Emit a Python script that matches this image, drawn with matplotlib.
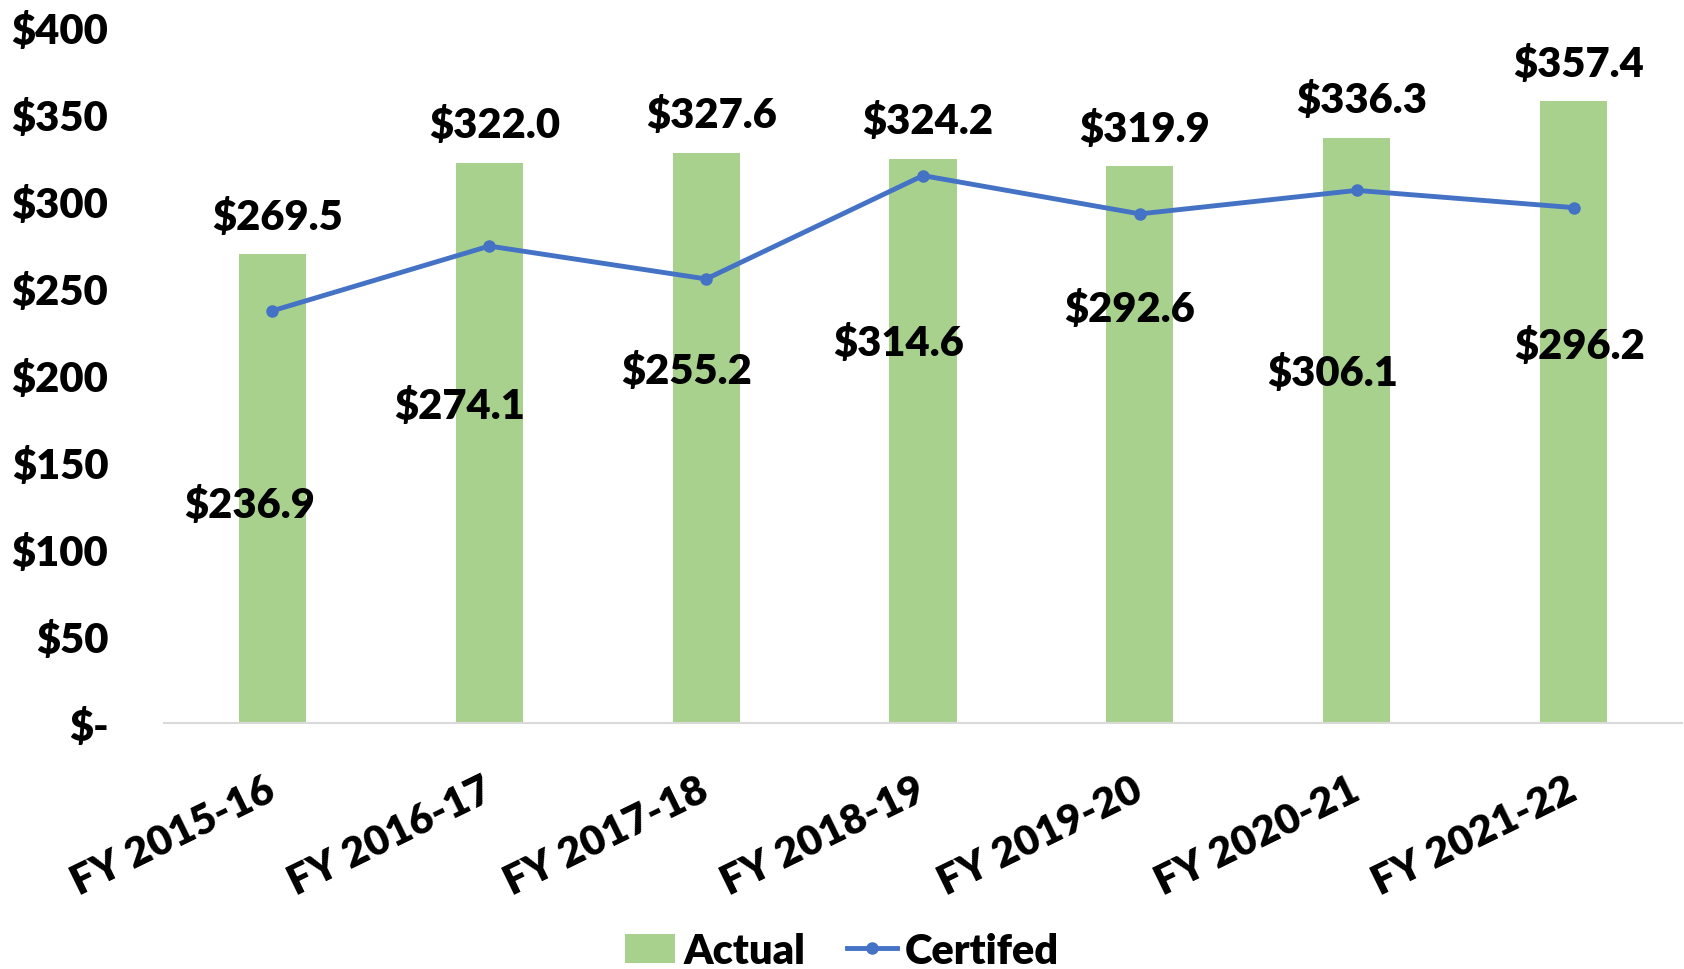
import matplotlib.pyplot as plt
import numpy as np

years = ['FY 2015-16', 'FY 2016-17', 'FY 2017-18', 'FY 2018-19',
         'FY 2019-20', 'FY 2020-21', 'FY 2021-22']
actual = [269.5, 322.0, 327.6, 324.2, 319.9, 336.3, 357.4]
certified = [236.9, 274.1, 255.2, 314.6, 292.6, 306.1, 296.2]
y_ticks = [0, 50, 100, 150, 200, 250, 300, 350, 400]
y_tick_labels = ['$-', '$50', '$100', '$150', '$200', '$250', '$300', '$350', '$400']

# label offsets for the certified values (pixels, placed by hand as in the source)
cert_offsets = [(-23, -194), (-30, -159), (-20, -92), (-24, -167),
                (-10, -95), (-24, -182), (6, -138)]

plt.rcParams['font.family'] = ['Lato', 'DejaVu Sans']
fs = 30
fw = 'heavy'
green = '#A9D18E'
blue = '#4472C4'

fig = plt.figure(figsize=(16.84, 9.70), dpi=100)
ax = fig.add_axes([164/1684, (970-724)/970, (1682-164)/1684, (724-28)/970])

x = np.arange(len(years))
bars = ax.bar(x, actual, width=0.31, color=green, label='Actual', zorder=2)
line, = ax.plot(x, certified, color=blue, lw=3.5, marker='o', markersize=8,
                label='Certifed', zorder=3)

for xi, v in zip(x, actual):
    ax.annotate(f'${v:.1f}', (xi, v), xytext=(5, 38), textcoords='offset pixels',
                ha='center', va='center', fontsize=fs, fontweight=fw)
for xi, v, (dx, dy) in zip(x, certified, cert_offsets):
    ax.annotate(f'${v:.1f}', (xi, v), xytext=(dx, dy), textcoords='offset pixels',
                ha='center', va='center', fontsize=fs, fontweight=fw)

ax.set_xlim(-0.5, len(years) - 0.5)
ax.set_ylim(0, 400)
ax.set_yticks(y_ticks)
ax.set_yticklabels(y_tick_labels, fontsize=fs, fontweight=fw)
ax.set_xticks(x)
ax.set_xticklabels(years, fontsize=fs, fontweight=fw, rotation=26,
                   ha='right', va='center', rotation_mode='anchor')
ax.tick_params(axis='y', length=0, pad=40)
ax.tick_params(axis='x', length=0, pad=46)

for s in ['top', 'right', 'left']:
    ax.spines[s].set_visible(False)
ax.spines['bottom'].set_color('#D9D9D9')
ax.spines['bottom'].set_linewidth(1.5)

fig.legend([bars, line], ['Actual', 'Certifed'], loc='center',
           bbox_to_anchor=(0.5, 18/970), ncol=2, frameon=False,
           prop={'weight': fw, 'size': fs}, handlelength=1.2,
           handletextpad=0.2, columnspacing=1.0)

fig.savefig('out.png', dpi=100)
